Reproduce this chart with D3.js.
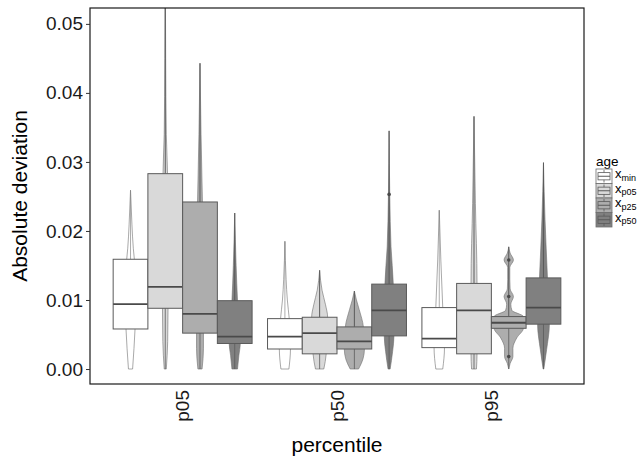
<!DOCTYPE html>
<html>
<head>
<meta charset="utf-8">
<script src="https://cdn.jsdelivr.net/npm/d3@7"></script>
<style>
  body { margin: 0; background: #fff; }
  svg text { font-family: "Liberation Sans", Arial, sans-serif; }
</style>
</head>
<body>
<svg id="chart" width="640" height="461"></svg>
<script>
// Categories
const percentiles = ['p05', 'p50', 'p95'];
const ages = ['min', 'p05', 'p25', 'p50'];
const ageFills = ['#ffffff', '#d9d9d9', '#adadad', '#808080'];
const yTicks = [0, 0.01, 0.02, 0.03, 0.04, 0.05];

// Box stats, one row per percentile, one column per age
const lowerQuartile = [
    [0.0058, 0.0088, 0.0052, 0.0037],
    [0.0029, 0.0022, 0.0029, 0.0048],
    [0.0031, 0.0022, 0.0059, 0.0065]
];
const medians = [
    [0.0094, 0.0119, 0.0080, 0.0047],
    [0.0047, 0.0052, 0.0040, 0.0085],
    [0.0044, 0.0085, 0.0067, 0.0089]
];
const upperQuartile = [
    [0.0159, 0.0283, 0.0242, 0.0099],
    [0.0073, 0.0075, 0.0061, 0.0123],
    [0.0089, 0.0124, 0.0076, 0.0132]
];
// Extent of the whisker + dense outlier line
const whiskerLow = [
    [0.0058, 0, 0, 0],
    [0.0029, 0, 0, 0],
    [0.0031, 0, 0, 0]
];
const whiskerHigh = [
    [0.0259, 0.0600, 0.0443, 0.0226],
    [0.0185, 0.0143, 0.0113, 0.0345],
    [0.0230, 0.0366, 0.0177, 0.0299]
];
// Separately visible outlier points: [percentile, age, value]
const outliers = [
    ['p50', 'p50', 0.0253],
    ['p95', 'p25', 0.0158],
    ['p95', 'p25', 0.0105],
    ['p95', 'p25', 0.0018]
];

// Violin outlines: [value, half width as share of the box width]
const violinProfiles = [
    [
        [[0, 0.06], [0.003, 0.1], [0.0058, 0.13], [0.01, 0.15], [0.0159, 0.11], [0.0175, 0.08], [0.021, 0.04], [0.0259, 0]],
        [[0, 0.03], [0.004, 0.07], [0.0088, 0.08], [0.0283, 0.065], [0.034, 0.03], [0.045, 0.012], [0.06, 0]],
        [[0, 0.06], [0.003, 0.1], [0.0052, 0.1], [0.0242, 0.07], [0.034, 0.03], [0.0443, 0]],
        [[0, 0.08], [0.002, 0.12], [0.0037, 0.16], [0.0099, 0.08], [0.015, 0.04], [0.0226, 0]]
    ],
    [
        [[0, 0.115], [0.0029, 0.16], [0.0073, 0.125], [0.01, 0.07], [0.013, 0.035], [0.0185, 0]],
        [[0, 0.12], [0.0022, 0.19], [0.0075, 0.23], [0.0093, 0.17], [0.0114, 0.07], [0.0143, 0]],
        [[0, 0.12], [0.0015, 0.25], [0.0029, 0.29], [0.0061, 0.26], [0.0086, 0.14], [0.0100, 0.06], [0.0113, 0]],
        [[0, 0.03], [0.0025, 0.1], [0.0048, 0.14], [0.0123, 0.12], [0.0177, 0.055], [0.025, 0.02], [0.0345, 0]]
    ],
    [
        [[0, 0.1], [0.0031, 0.15], [0.0089, 0.1], [0.0158, 0.045], [0.023, 0]],
        [[0, 0.07], [0.0022, 0.087], [0.0124, 0.087], [0.024, 0.04], [0.0366, 0]],
        [[0, 0], [0.0008, 0.04], [0.0018, 0.12], [0.003, 0.12], [0.0045, 0.23], [0.0059, 0.42], [0.0076, 0.42],
         [0.0085, 0.09], [0.0094, 0.06], [0.0105, 0.135], [0.0116, 0.04], [0.013, 0.03], [0.0147, 0.03],
         [0.0158, 0.135], [0.0168, 0.04], [0.0177, 0]],
        [[0, 0.01], [0.0028, 0.09], [0.0065, 0.17], [0.0132, 0.115], [0.0216, 0.045], [0.0299, 0]]
    ]
];

const svg = d3.select('#chart');
const panel = { left: 90, right: 584, top: 8, bottom: 384 };

const x = d3.scaleBand()
    .domain(percentiles)
    .range([panel.left, panel.right])
    .paddingInner(0.1)
    .paddingOuter(0.15);

const xAge = d3.scaleBand()
    .domain(ages)
    .range([0, x.bandwidth()]);

const y = d3.scaleLinear()
    .domain([-0.00217, 0.0523])
    .range([panel.bottom, panel.top]);

const fill = d3.scaleOrdinal().domain(ages).range(ageFills);
const outlineColor = '#5a5a5a';

// Panel background
svg.append('rect')
    .attr('x', panel.left).attr('y', panel.top)
    .attr('width', panel.right - panel.left)
    .attr('height', panel.bottom - panel.top)
    .attr('fill', '#fff');

svg.append('clipPath').attr('id', 'panelClip')
    .append('rect')
    .attr('x', panel.left).attr('y', panel.top)
    .attr('width', panel.right - panel.left)
    .attr('height', panel.bottom - panel.top);

const plot = svg.append('g').attr('clip-path', 'url(#panelClip)');
const bw = xAge.bandwidth();

percentiles.forEach((pct, i) => {
    ages.forEach((age, j) => {
        const cx = x(pct) + xAge(age) + bw / 2;
        const g = plot.append('g');

        // violin
        const area = d3.area()
            .y(d => y(d[0]))
            .x0(d => cx - d[1] * bw)
            .x1(d => cx + d[1] * bw)
            .curve(d3.curveMonotoneY);
        g.append('path')
            .attr('d', area(violinProfiles[i][j]))
            .attr('fill', fill(age))
            .attr('stroke', '#6e6e6e')
            .attr('stroke-width', 0.6);

        // whisker / outlier line (lighter for the white group)
        g.append('line')
            .attr('x1', cx).attr('x2', cx)
            .attr('y1', y(upperQuartile[i][j])).attr('y2', y(whiskerHigh[i][j]))
            .attr('stroke', j === 0 ? '#8a8a8a' : outlineColor)
            .attr('stroke-width', j === 0 ? 0.7 : 1);
        if (whiskerLow[i][j] < lowerQuartile[i][j]) {
            g.append('line')
                .attr('x1', cx).attr('x2', cx)
                .attr('y1', y(lowerQuartile[i][j])).attr('y2', y(whiskerLow[i][j]))
                .attr('stroke', outlineColor).attr('stroke-width', 0.8);
        }

        // box
        g.append('rect')
            .attr('x', cx - bw / 2)
            .attr('y', y(upperQuartile[i][j]))
            .attr('width', bw)
            .attr('height', y(lowerQuartile[i][j]) - y(upperQuartile[i][j]))
            .attr('fill', fill(age))
            .attr('stroke', outlineColor)
            .attr('stroke-width', 1);

        g.append('line')
            .attr('x1', cx - bw / 2).attr('x2', cx + bw / 2)
            .attr('y1', y(medians[i][j])).attr('y2', y(medians[i][j]))
            .attr('stroke', '#4a4a4a')
            .attr('stroke-width', 1.8);
    });
});

plot.selectAll('circle.outlier')
    .data(outliers)
    .join('circle')
    .attr('class', 'outlier')
    .attr('cx', d => x(d[0]) + xAge(d[1]) + bw / 2)
    .attr('cy', d => y(d[2]))
    .attr('r', 1.8)
    .attr('fill', '#4a4a4a');

// Panel border
svg.append('rect')
    .attr('x', panel.left).attr('y', panel.top)
    .attr('width', panel.right - panel.left)
    .attr('height', panel.bottom - panel.top)
    .attr('fill', 'none')
    .attr('stroke', '#1a1a1a')
    .attr('stroke-width', 1.2);

// Y axis
const yAxis = d3.axisLeft(y)
    .tickValues(yTicks)
    .tickFormat(d3.format('.2f'))
    .tickSize(4)
    .tickPadding(3);
const yG = svg.append('g')
    .attr('transform', `translate(${panel.left},0)`)
    .call(yAxis);
yG.select('.domain').remove();
yG.selectAll('.tick line').attr('stroke', '#333');
yG.selectAll('.tick text')
    .attr('font-size', 19)
    .attr('fill', '#1a1a1a')
    .attr('font-family', '"Liberation Sans", Arial, sans-serif');

// X axis labels (rotated)
const xG = svg.append('g');
xG.selectAll('text')
    .data(percentiles)
    .join('text')
    .attr('transform', d => `translate(${x(d) + x.bandwidth() / 2},${panel.bottom + 6}) rotate(-90)`)
    .attr('text-anchor', 'end')
    .attr('dy', '0.35em')
    .attr('font-size', 19)
    .attr('fill', '#1a1a1a')
    .text(d => d);

// Axis titles
svg.append('text')
    .attr('x', (panel.left + panel.right) / 2)
    .attr('y', 452)
    .attr('text-anchor', 'middle')
    .attr('font-size', 21)
    .attr('fill', '#000')
    .text('percentile');

svg.append('text')
    .attr('transform', `translate(20,${(panel.top + panel.bottom) / 2}) rotate(-90)`)
    .attr('text-anchor', 'middle')
    .attr('dy', '0.35em')
    .attr('font-size', 21)
    .attr('fill', '#000')
    .text('Absolute deviation');

// Legend
const legend = svg.append('g').attr('transform', 'translate(596,0)');
legend.append('text')
    .attr('x', 0).attr('y', 166)
    .attr('font-size', 13.5)
    .attr('fill', '#000')
    .text('age');

const keyW = 16, keyH = 14.5, keyTop = 169;
ages.forEach((age, j) => {
    const ky = keyTop + j * keyH;
    const k = legend.append('g');
    k.append('rect')
        .attr('x', 0).attr('y', ky)
        .attr('width', keyW).attr('height', keyH)
        .attr('fill', fill(age))
        .attr('stroke', '#6e6e6e').attr('stroke-width', 0.8);
    k.append('line')
        .attr('x1', keyW / 2).attr('x2', keyW / 2)
        .attr('y1', ky + 1).attr('y2', ky + keyH - 1)
        .attr('stroke', outlineColor).attr('stroke-width', 0.8);
    k.append('rect')
        .attr('x', 2).attr('y', ky + keyH * 0.25)
        .attr('width', keyW - 4).attr('height', keyH * 0.5)
        .attr('fill', fill(age))
        .attr('stroke', outlineColor).attr('stroke-width', 0.8);
    k.append('line')
        .attr('x1', 2).attr('x2', keyW - 2)
        .attr('y1', ky + keyH / 2).attr('y2', ky + keyH / 2)
        .attr('stroke', outlineColor).attr('stroke-width', 1);

    const label = k.append('text')
        .attr('x', keyW + 3).attr('y', ky + keyH / 2 + 2)
        .attr('font-size', 13)
        .attr('fill', '#000');
    label.append('tspan').text('x');
    label.append('tspan')
        .attr('font-size', 9)
        .attr('dy', 2.5)
        .text(age);
});
</script>
</body>
</html>
